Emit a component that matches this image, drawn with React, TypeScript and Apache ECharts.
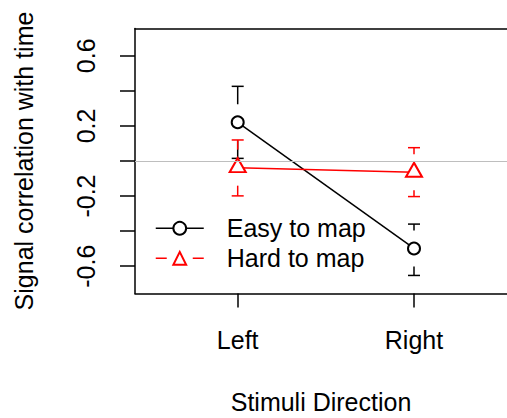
import React, { useEffect, useRef } from "react";
import * as echarts from "echarts";

const categories = ["Left", "Right"];
const categoryPositions = [1, 2];
const seriesNames = ["Easy to map", "Hard to map"];
const easyMeans = [0.221, -0.499];
const easyLower = [0.015, -0.653];
const easyUpper = [0.426, -0.36];
const hardMeans = [-0.038, -0.064];
const hardLower = [-0.199, -0.203];
const hardUpper = [0.12, 0.076];
const yTicks = [-0.6, -0.4, -0.2, 0, 0.2, 0.4, 0.6];
const yTickLabels = [-0.6, -0.2, 0.2, 0.6];
const xTitle = "Stimuli Direction";
const yTitle = "Signal correlation with time";

const FONT = "Liberation Sans, Arial, Helvetica, sans-serif";
const X_MIN = 0.4175;
const X_MAX = 2.5275;

function errorBarSeries(name: string, color: string, means: number[], lows: number[], highs: number[]) {
  const data = categoryPositions.map((x, i) => [x, means[i], lows[i], highs[i]]);
  return {
    type: "custom",
    name: name + " CI",
    silent: true,
    z: 3,
    data,
    encode: { x: 0, y: [1, 2, 3] },
    renderItem: (params: any, api: any) => {
      const x = api.value(0);
      const pm = api.coord([x, api.value(1)]);
      const pl = api.coord([x, api.value(2)]);
      const ph = api.coord([x, api.value(3)]);
      const gap = 18;
      const cap = 6;
      const style = { stroke: color, lineWidth: 1.5 };
      const children: any[] = [];
      const px = pm[0];
      if (pm[1] - gap > ph[1]) {
        children.push({ type: "line", shape: { x1: px, y1: pm[1] - gap, x2: px, y2: ph[1] }, style });
      }
      children.push({ type: "line", shape: { x1: px - cap, y1: ph[1], x2: px + cap, y2: ph[1] }, style });
      if (pm[1] + gap < pl[1]) {
        children.push({ type: "line", shape: { x1: px, y1: pm[1] + gap, x2: px, y2: pl[1] }, style });
      }
      children.push({ type: "line", shape: { x1: px - cap, y1: pl[1], x2: px + cap, y2: pl[1] }, style });
      return { type: "group", children };
    },
  };
}

export default function App() {
  const ref = useRef<HTMLDivElement>(null);
  useEffect(() => {
    if (!ref.current) return;
    const chart = echarts.init(ref.current, undefined, { renderer: "svg" });
    chart.setOption({
      animation: false,
      backgroundColor: "#ffffff",
      textStyle: { fontFamily: FONT },
      grid: {
        left: 135,
        top: 28.5,
        right: 0,
        bottom: 124.5,
        show: false,
        containLabel: false,
        outerBoundsMode: "none",
      },
      legend: {
        orient: "vertical",
        left: 150,
        top: 208.3,
        itemWidth: 48,
        itemHeight: 16,
        itemGap: 0,
        textStyle: { fontSize: 25, color: "#000", fontFamily: FONT, lineHeight: 30, padding: [0, 0, 0, 18] },
        data: [
          { name: seriesNames[0], lineStyle: { color: "#000", width: 1.5, type: "solid" } },
          { name: seriesNames[1], lineStyle: { color: "#ff0000", width: 1.5, type: [11, 26] } },
        ],
      },
      xAxis: [
        {
          type: "value",
          min: X_MIN,
          max: X_MAX,
          position: "bottom",
          name: xTitle,
          nameLocation: "middle",
          nameGap: 96,
          nameTextStyle: { fontSize: 25, color: "#000", fontFamily: FONT, lineHeight: 25 },
          axisLine: { show: true, onZero: false, lineStyle: { color: "#000", width: 1.5 } },
          axisTick: { show: true, length: 14, customValues: categoryPositions, lineStyle: { color: "#000", width: 1.5 } },
          axisLabel: {
            customValues: categoryPositions,
            fontSize: 25,
            color: "#000",
            fontFamily: FONT,
            margin: 34,
            formatter: (v: number) => categories[categoryPositions.indexOf(v)] ?? "",
          },
          splitLine: { show: false },
        },
        {
          type: "value",
          min: X_MIN,
          max: X_MAX,
          position: "top",
          axisLine: { show: true, onZero: false, lineStyle: { color: "#000", width: 1.5 } },
          axisTick: { show: false },
          axisLabel: { show: false },
          splitLine: { show: false },
        },
      ],
      yAxis: {
        type: "value",
        min: -0.756,
        max: 0.756,
        name: yTitle,
        nameLocation: "middle",
        nameGap: 99,
        nameRotate: 90,
        nameTextStyle: { fontSize: 25, color: "#000", fontFamily: FONT },
        axisLine: { show: true, onZero: false, lineStyle: { color: "#000", width: 1.5 } },
        axisTick: { show: true, length: 15, customValues: yTicks, lineStyle: { color: "#000", width: 1.5 } },
        axisLabel: {
          customValues: yTickLabels,
          rotate: 90,
          fontSize: 25,
          color: "#000",
          fontFamily: FONT,
          margin: 37,
          formatter: (v: number) => String(v),
        },
        splitLine: { show: false },
      },
      series: [
        {
          type: "line",
          name: "zero",
          data: [],
          silent: true,
          z: 1,
          markLine: {
            silent: true,
            symbol: "none",
            label: { show: false },
            lineStyle: { color: "#bebebe", width: 1.2, type: "solid" },
            data: [{ yAxis: 0 }],
          },
        },
        errorBarSeries(seriesNames[0], "#000", easyMeans, easyLower, easyUpper),
        errorBarSeries(seriesNames[1], "#ff0000", hardMeans, hardLower, hardUpper),
        {
          type: "line",
          name: seriesNames[0],
          z: 4,
          data: categoryPositions.map((x, i) => [x, easyMeans[i]]),
          symbol: "emptyCircle",
          symbolSize: 12,
          lineStyle: { color: "#000", width: 1.5 },
          itemStyle: { color: "#000", borderColor: "#000", borderWidth: 1.8 },
        },
        {
          type: "line",
          name: seriesNames[1],
          z: 4,
          data: categoryPositions.map((x, i) => [x, hardMeans[i]]),
          symbol: "emptyTriangle",
          symbolSize: [16, 14],
          symbolOffset: [0, -2.5],
          lineStyle: { color: "#ff0000", width: 1.5 },
          itemStyle: { color: "#ff0000", borderColor: "#ff0000", borderWidth: 1.8 },
        },
      ],
    });
    return () => chart.dispose();
  }, []);
  return <div ref={ref} style={{ position: "fixed", left: 0, top: 0, width: 507, height: 418 }} />;
}
